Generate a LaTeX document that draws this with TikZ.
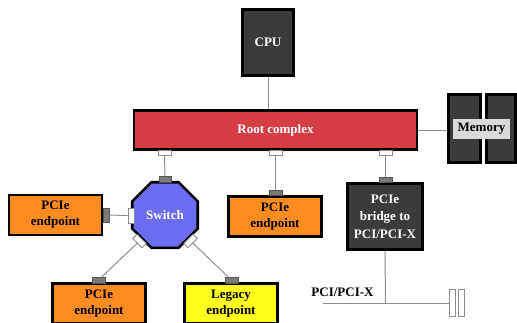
\documentclass[tikz,border=0pt]{standalone}
\usepackage{fontspec}
\setmainfont{Liberation Serif}
\usetikzlibrary{shapes.geometric}
\definecolor{darkbox}{HTML}{3B3B3B}
\definecolor{rootred}{HTML}{D63E46}
\definecolor{switchblue}{HTML}{6D6DF4}
\definecolor{eporange}{HTML}{FF8C1E}
\definecolor{legyellow}{HTML}{FFFF1C}
\definecolor{memlabel}{HTML}{D9D9D9}
\definecolor{wire}{HTML}{8C8C8C}
\definecolor{portgray}{HTML}{7A7A7A}
\tikzset{
  lbl/.style={font=\fontsize{13}{16}\selectfont\bfseries},
  box/.style={draw=black, line width=2.6pt, inner sep=0pt, align=center, lbl},
  darkbox/.style={box, fill=darkbox, text=white},
  epbox/.style={box, fill=eporange, minimum width=93pt, minimum height=40pt},
  portw/.style={draw=wire, fill=white, line width=0.8pt, inner sep=0pt},
  portg/.style={draw=portgray!70!black, fill=portgray, line width=0.6pt, inner sep=0pt},
  wire/.style={draw=wire, line width=1pt},
}
\begin{document}
\begin{tikzpicture}[x=1pt,y=-1pt]
\useasboundingbox (0,0) rectangle (517,322);
\clip (0,0) rectangle (517,322);

% processor and root complex
\node[darkbox, line width=3pt, minimum width=51pt, minimum height=66pt] (cpu) at (268,42.5) {CPU};
\node[box, fill=rootred, text=white, minimum width=283pt, minimum height=39pt] (root) at (275.5,130) {Root complex};

% memory banks
\node[darkbox, line width=3pt, minimum width=32pt, minimum height=68pt] (mem1) at (464.5,128.5) {};
\node[darkbox, line width=3pt, minimum width=29pt, minimum height=68pt] (mem2) at (501,128.5) {};
\node[fill=memlabel, inner sep=0pt, minimum width=57pt, minimum height=20pt, lbl] (memtxt) at (481.5,129) {Memory};

% downstream ports of the root complex
\node[portw, minimum width=13pt, minimum height=5pt] (rp1) at (164.5,153) {};
\node[portw, minimum width=13pt, minimum height=5pt] (rp2) at (275.5,153) {};
\node[portw, minimum width=13pt, minimum height=5pt] (rp3) at (385.5,153) {};

% switch
\node[box, regular polygon, regular polygon sides=8, minimum size=71pt,
  fill=switchblue, text=white] (sw) at (165,215) {Switch};
\node[portg, minimum width=12pt, minimum height=6pt] (swup) at (165,179) {};
\node[portw, minimum width=6pt, minimum height=15pt] (swl) at (131,215.5) {};
\node[portw, minimum width=13pt, minimum height=6pt, rotate=-45] (swdl) at (139.5,241) {};
\node[portw, minimum width=13pt, minimum height=6pt, rotate=45] (swdr) at (190.5,241) {};

% endpoints
\node[epbox] (ep1) at (55.5,215) {PCIe\\endpoint};
\node[portg, minimum width=6pt, minimum height=14pt] (ep1p) at (106,215) {};
\node[epbox] (ep2) at (275,216.5) {PCIe\\endpoint};
\node[portg, minimum width=13pt, minimum height=5pt] (ep2p) at (275.5,192.5) {};
\node[epbox] (ep3) at (99,303.5) {PCIe\\endpoint};
\node[portg, minimum width=13pt, minimum height=6pt] (ep3p) at (98.5,280) {};
\node[epbox, fill=legyellow] (leg) at (231,303.5) {Legacy\\endpoint};
\node[portg, minimum width=13pt, minimum height=6pt] (legp) at (231.5,280) {};

% bridge to the PCI/PCI-X bus
\node[darkbox, minimum width=75pt, minimum height=66pt,
  font=\fontsize{13}{17.5}\selectfont\bfseries] (br) at (385,216.5) {PCIe\\bridge to\\PCI/PCI-X};
\node[portg, minimum width=13pt, minimum height=5pt] (brp) at (385.5,179.5) {};

% PCI/PCI-X bus with two slots
\coordinate (busL) at (323,303);
\coordinate (busJ) at (385.5,303);
\node[portw, minimum width=6pt, minimum height=27pt] (slot1) at (452,302.5) {};
\node[portw, minimum width=6pt, minimum height=27pt] (slot2) at (461,302.5) {};
\node[lbl, inner sep=0pt] (buslbl) at (342.5,292.5) {PCI/PCI-X};

% connectors
\draw[wire] (cpu.south) -- (cpu.south |- root.north);
\draw[wire] (root.east) -- (mem1.west |- root.east);
\draw[wire] (rp1) -- (swup);
\draw[wire] (rp2) -- (ep2p);
\draw[wire] (rp3) -- (brp);
\draw[wire] (ep1p) -- (swl);
\draw[wire] (swdl) -- (ep3p);
\draw[wire] (swdr) -- (legp);
\draw[wire] (br.south) -- (busJ);
\draw[wire] (busL) -- (slot1.west |- busL);
\end{tikzpicture}
\end{document}
